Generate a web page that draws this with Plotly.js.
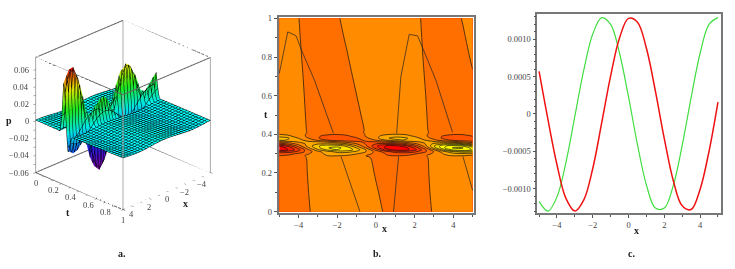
<!DOCTYPE html>
<html><head><meta charset="utf-8">
<script src="https://cdn.plot.ly/plotly-3.0.1.min.js"></script>
<style>html,body{margin:0;padding:0;background:#fff}#g{width:735px;height:269px}</style>
</head><body><div id="g"></div>
<script>
// p values below are in thousandths.
const xValues=[-5,-4.5,-4,-3.5,-3,-2.5,-2,-1.5,-1,-0.5,0,0.5,1,1.5,2,2.5,3,3.5,4,4.5,5];
const tValues=[0,0.1,0.2,0.28,0.29,0.30,0.31,0.32,0.33,0.34,0.35,0.36,0.37,0.38,0.39,0.40,0.41,0.42,0.5,0.6,0.7,0.8,0.9,1];
const pT000=[-1.35,-1.40,-1.14,-0.63,0.00,0.61,1.04,1.18,1.00,0.55,-0.06,-0.69,-1.18,-1.41,-1.33,-0.94,-0.36,0.28,0.83,1.14,1.14];
const pT010=[-1.48,-1.43,-1.08,-0.52,0.12,0.69,1.03,1.08,0.81,0.30,-0.34,-0.94,-1.36,-1.50,-1.32,-0.86,-0.24,0.38,0.87,1.09,1.00];
const pT020=[-1.60,-1.46,-1.04,-0.44,0.20,0.71,0.98,0.93,0.59,0.02,-0.62,-1.18,-1.53,-1.58,-1.31,-0.80,-0.16,0.44,0.86,1.00,0.82];
const pT028=[-1.69,-1.48,-1.00,-0.37,0.25,0.71,0.90,0.77,0.36,-0.24,-0.88,-1.40,-1.68,-1.64,-1.30,-0.74,-0.09,0.47,0.83,0.88,0.62];
const pT029=[-13.3,-10.3,-4.8,1.8,7.9,11.7,12.9,10.8,5.8,-0.6,-6.9,-11.7,-13.7,-12.4,-8.3,-2.1,4.3,9.7,12.6,12.4,9.0];
const pT030=[-18.8,-16.5,-10.6,-1.7,7.4,14.6,18.5,17.8,12.6,4.5,-4.6,-12.9,-17.7,-18.4,-14.4,-7.2,2,12,20,22,19];
const pT031=[-32.1,-30.1,-21,-6.4,8,19,27,27,21,11.1,-4.6,-19.6,-29.4,-32.3,-27.1,-15.5,0,19,34,40,37];
const pT032=[-55.4,-47.6,-28.7,-2.1,21,38,47,44,30,10.4,-16.6,-40.2,-53.4,-53.9,-41,-18.4,11,42,63,69,58];
const pT033=[-58.2,-43.8,-19.2,9,32,47,51,42,23,-1.8,-30,-51.6,-60,-54,-34.8,-7.2,28,58,73,72,52];
const pT034=[-47,-30.4,-6.8,17,34,43,43,31,12,-11.5,-34.2,-49.1,-51.5,-41.5,-21.5,3.8,35,57,65,58,36];
const pT035=[-22.9,-10.9,3.8,15,23,25,22,13,0.5,-13.8,-24.8,-30,-27.7,-18.6,-5.2,9.7,27,36,36,27,12];
const pT036=[-1.4,5.8,11.7,14.6,14.1,10.1,3.6,-3.8,-10.2,-14.2,-14.7,-11.6,-5.7,1.7,8.4,13.3,14.9,12.9,7.7,0.6,-6.6];
const pT037=[26,22,15.3,6.6,-3.5,-12.7,-19,-20.6,-17,-9.5,0.3,11,20,23,19,12.1,2.6,-7.5,-15.6,-20.3,-19.8];
const pT038=[30,24,11.2,-0.2,-11.4,-19.6,-23.4,-21.4,-14,-3.3,8,21,28,26,17,6.8,-4.8,-15.1,-21.7,-23.3,-19];
const pT039=[20,14,5.8,-3.2,-11.3,-16.6,-18,-14.9,-8.1,0.5,9,16,20,17,10.4,2.2,-6.7,-13.9,-17.6,-17.3,-12.6];
const pT040=[11.6,8.8,3.8,-2.2,-7.6,-11,-12,-10,-5.4,0.4,6,10.3,12,10.8,7,1.4,-4.4,-9.2,-11.8,-11.5,-8.4];
const pT041=[4.9,3.7,1.6,-0.9,-3.2,-4.6,-5,-4.2,-2.3,0.2,2.5,4.3,5,4.5,2.9,0.6,-1.9,-3.9,-4.9,-4.8,-3.5];
const pT042=[0.86,0.56,0.02,-0.62,-1.21,-1.60,-1.69,-1.47,-0.99,-0.36,0.26,0.72,0.90,0.76,0.35,-0.26,-0.89,-1.41,-1.68,-1.63,-1.29];
const pT050=[0.89,0.53,-0.05,-0.69,-1.24,-1.58,-1.60,-1.31,-0.79,-0.15,0.45,0.85,0.97,0.76,0.29,-0.33,-0.95,-1.42,-1.63,-1.51,-1.11];
const pT060=[0.92,0.48,-0.13,-0.76,-1.27,-1.52,-1.45,-1.09,-0.51,0.13,0.69,1.02,1.04,0.76,0.23,-0.41,-1.01,-1.41,-1.53,-1.32,-0.85];
const pT070=[0.91,0.41,-0.22,-0.83,-1.28,-1.44,-1.29,-0.85,-0.24,0.39,0.89,1.15,1.08,0.72,0.14,-0.50,-1.05,-1.39,-1.41,-1.13,-0.60];
const pT080=[0.87,0.32,-0.32,-0.90,-1.27,-1.34,-1.09,-0.59,0.04,0.65,1.09,1.25,1.09,0.65,0.04,-0.59,-1.09,-1.34,-1.27,-0.90,-0.32];
const pT090=[0.82,0.23,-0.41,-0.94,-1.23,-1.21,-0.88,-0.33,0.31,0.89,1.26,1.33,1.08,0.58,-0.05,-0.66,-1.10,-1.26,-1.10,-0.66,-0.05];
const pT100=[0.76,0.14,-0.48,-0.96,-1.17,-1.06,-0.66,-0.06,0.58,1.11,1.40,1.38,1.05,0.50,-0.14,-0.72,-1.09,-1.16,-0.91,-0.41,0.22];
const pRows=[pT000,pT010,pT020,pT028,pT029,pT030,pT031,pT032,pT033,pT034,pT035,pT036,pT037,pT038,pT039,pT040,pT041,pT042,pT050,pT060,pT070,pT080,pT090,pT100];
const pGrid=pRows.map(r=>r.map(v=>v/1000));

// extra contour lines of panel b
const lineAx=[-1.8,-0.83], lineAt=[0.285,0];
const lineBx=[1.17,0.91], lineBt=[0.285,0];
const lineCx=[4.5,5], lineCt=[0.285,0.11];
const arcAx=[-5,-4.56,-4.13,-3.87,-3.18,-2.2], arcAt=[0.715,0.93,0.91,0.84,0.68,0.405];
const arcBx=[1.07,1.29,1.72,2.15,2.46,3.1,3.96], arcBt=[0.405,0.70,0.917,0.91,0.836,0.68,0.41];

// panel c
const curveX=[-5,-4.5,-4,-3.5,-3,-2.5,-2,-1.5,-1,-0.5,0,0.5,1,1.5,2,2.5,3,3.5,4,4.5,5];
const redP=[0.00057,-0.00008,-0.00068,-0.00113,-0.0013,-0.00115,-0.00073,-0.00012,0.00051,0.00102,0.00128,0.00123,0.00088,0.00031,-0.00033,-0.00089,-0.00123,-0.00128,-0.00101,-0.0005,0.00016];
const greenP=[-0.00117,-0.0013,-0.00111,-0.00065,-0.00003,0.00059,0.00107,0.00129,0.0012,0.00081,0.00023,-0.00041,-0.00095,-0.00126,-0.00126,-0.00096,-0.00042,0.00022,0.00081,0.0012,0.00129];
const cTickVals=[-0.001,-0.0005,0,0.0005,0.001];
const cTickText=['\u22120.0010','\u22120.0005','0','0.0005','0.0010'];

// ticks of panel a
const aXTicks=[-5,-4,-3,-2,-1,0,1,2,3,4,5];
const aTTicks=[0,0.1,0.2,0.3,0.4,0.5,0.6,0.7,0.8,0.9,1];
const aPTicks=[-0.06,-0.05,-0.04,-0.03,-0.02,-0.01,0,0.01,0.02,0.03,0.04,0.05,0.06];
const aXLabelVals=[-4,-2,0,2,4], aXLabels=['\u22124','\u22122','0','2','4'];
const aTLabelVals=[0,0.2,0.4,0.6,0.8,1], aTLabels=['0','0.2','0.4','0.6','0.8','1'];
const aPLabelVals=[-0.06,-0.04,-0.02,0,0.02,0.04,0.06], aPLabels=['\u22120.06','\u22120.04','\u22120.02','0','0.02','0.04','0.06'];

const W=735,H=269;
const dx=(a,b)=>[a/W,b/W], dy=(top,bot)=>[1-bot/H,1-top/H];
const serif='"Liberation Serif",serif';
const tf={family:serif,size:8.5,color:'#444'};
function ax2(extra){return Object.assign({showgrid:false,zeroline:false,showline:true,mirror:true,linecolor:'#777',linewidth:1.5,
  ticks:'outside',ticklen:3,tickcolor:'#555',tickfont:tf},extra);}
function ax3(extra){return Object.assign({showgrid:false,zeroline:false,showbackground:false,showline:false,
  ticks:'outside',ticklen:3,tickcolor:'#555',showticklabels:false,showspikes:false,title:{text:''}},extra);}

const bx=[-5,5], bt=[0,1], bp=[-0.06,0.074];
function seg(a,b){return {type:'scatter3d',mode:'lines',x:[a[0],b[0]],y:[a[1],b[1]],z:[a[2],b[2]],line:{color:a[2]!==b[2]?'#aaa':'#666',width:2},showlegend:false,hoverinfo:'skip'};}
const corners=[];
for(const i of [0,1])for(const j of [0,1])for(const k of [0,1])corners.push([bx[i],bt[j],bp[k]]);
const boxTraces=[];
for(let i=0;i<8;i++)for(let j=i+1;j<8;j++){const a=corners[i],b=corners[j];
  if((a[0]!==b[0])+(a[1]!==b[1])+(a[2]!==b[2])===1)boxTraces.push(seg(a,b));}

const sceneLabel=(x,y,z,text,xshift,yshift,xanchor)=>({x,y,z,text,showarrow:false,xshift,yshift,xanchor:xanchor||'center',yanchor:'middle',font:{family:serif,size:8.5,color:'#444'}});
const sceneLabels=[
 ...aXLabelVals.map((v,i)=>sceneLabel(v,1,bp[0],aXLabels[i],0,-8)),
 ...aTLabelVals.map((v,i)=>sceneLabel(5,v,bp[0],aTLabels[i],0,-10)),
 ...aPLabelVals.map((v,i)=>sceneLabel(5,0,v,aPLabels[i],-5,0,'right'))
];

const zhue=[[0,'#a000c0'],[0.224,'#2020ff'],[0.448,'#00ffff'],[0.634,'#20ff20'],[0.82,'#ffff00'],[1,'#ff0000']];
const traces=[
 {type:'surface',x:xValues,y:tValues,z:pGrid,cmin:-0.06,cmax:0.074,colorscale:zhue,showscale:false,
  lighting:{ambient:0.9,diffuse:0.4,specular:0,roughness:1,fresnel:0},
  contours:{x:{show:true,start:-5,end:5,size:0.3333,color:'#000',width:1,highlight:false},
            y:{show:true,start:0,end:1,size:0.0333,color:'#000',width:1,highlight:false},
            z:{highlight:false}},hoverinfo:'skip'},
 ...boxTraces,
 {type:'contour',x:xValues,y:tValues,z:pGrid,xaxis:'x',yaxis:'y',showscale:false,zmin:-0.0536,zmax:0.0641,
  colorscale:[[0,'#ff0000'],[1,'#ffff00']],autocontour:false,
  contours:{start:-0.0605,end:0.0715,size:0.012,coloring:'fill'},line:{color:'#111',width:0.7},hoverinfo:'skip'},
 ...[[lineAx,lineAt],[lineBx,lineBt],[lineCx,lineCt],[arcAx,arcAt],[arcBx,arcBt]].map(l=>({type:'scatter',mode:'lines',x:l[0],y:l[1],xaxis:'x',yaxis:'y',
    line:{color:'#222',width:0.7},showlegend:false,hoverinfo:'skip'})),
 {type:'scatter',mode:'lines',x:curveX,y:greenP,xaxis:'x2',yaxis:'y2',line:{color:'#40dd40',width:1.2,shape:'spline'},showlegend:false,hoverinfo:'skip'},
 {type:'scatter',mode:'lines',x:curveX,y:redP,xaxis:'x2',yaxis:'y2',line:{color:'#ee1111',width:1.5,shape:'spline'},showlegend:false,hoverinfo:'skip'}
];
const lab=(text,x,y,size)=>({text:'<b>'+text+'</b>',xref:'paper',yref:'paper',x:x/W,y:1-y/H,xanchor:'center',yanchor:'middle',showarrow:false,font:{family:serif,size:size||10,color:'#222'}});
const layout={width:W,height:H,margin:{l:0,r:0,t:0,b:0},paper_bgcolor:'#fff',plot_bgcolor:'#fff',showlegend:false,
 scene:{domain:{x:[0,0.335],y:[1-230/269,1]},camera:{projection:{type:'orthographic'},eye:{x:1.16,y:1.16,z:0.77},center:{x:0,y:0,z:0}},
  aspectmode:'manual',aspectratio:{x:1.075,y:1.075,z:1.105},annotations:sceneLabels,
  xaxis:ax3({range:bx,tickvals:aXTicks}),
  yaxis:ax3({range:bt,tickvals:aTTicks}),
  zaxis:ax3({range:bp,tickvals:aPTicks})},
 xaxis:ax2({domain:dx(278.5,474),anchor:'y',range:[-5.04,5.07],tickvals:[-4,-2,0,2,4],ticktext:['\u22124','\u22122','0','2','4'],minor:{dtick:1,tick0:0,ticks:'outside',ticklen:2,tickcolor:'#555'}}),
 yaxis:ax2({domain:dy(17,213),anchor:'x',range:[-0.007,1.007],tickvals:[0,0.2,0.4,0.6,0.8,1],minor:{dtick:0.1,tick0:0,ticks:'outside',ticklen:2,tickcolor:'#555'}}),
 xaxis2:ax2({domain:dx(537.3,721),anchor:'y2',range:[-5.1,5.17],tickvals:[-4,-2,0,2,4],ticktext:['\u22124','\u22122','0','2','4'],minor:{dtick:1,tick0:0,ticks:'outside',ticklen:2,tickcolor:'#555'}}),
 yaxis2:ax2({domain:dy(14.3,213.3),anchor:'x2',range:[-0.00133,0.001335],tickvals:cTickVals,ticktext:cTickText,minor:{dtick:0.0001,tick0:0,ticks:'outside',ticklen:2,tickcolor:'#555'}}),
 annotations:[lab('a.',122,253),lab('b.',377,253),lab('c.',631,253),lab('x',384,228),lab('t',266,115),lab('x',636,230),lab('p',9,120),lab('t',68,212),lab('x',185,203)]
};
Plotly.newPlot('g',traces,layout,{displayModeBar:false});
</script></body></html>
